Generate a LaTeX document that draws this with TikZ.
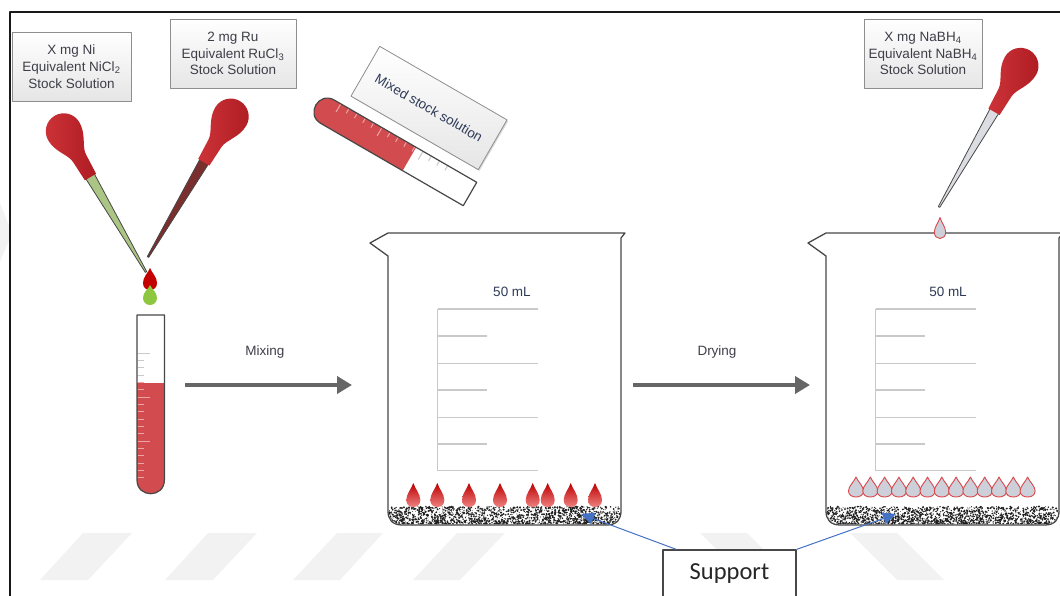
\documentclass[tikz,border=0pt]{standalone}
\usepackage{fontspec}
\setmainfont{Liberation Sans}
\newfontfamily\supportfont{Carlito}
\usetikzlibrary{arrows.meta,shadows,calc}

\definecolor{ink}{HTML}{3E3E48}
\definecolor{rim}{HTML}{474747}
\definecolor{grad}{HTML}{C9C9C9}
\definecolor{tubered}{HTML}{D24B4E}
\definecolor{tubetick}{HTML}{EBA5A6}
\definecolor{rubberA}{HTML}{CC3338}
\definecolor{rubberB}{HTML}{AE1C22}
\definecolor{nigreen}{HTML}{ABC584}
\definecolor{rubrown}{HTML}{7B2E2E}
\definecolor{glass}{HTML}{DCDDE2}
\definecolor{dropgray}{HTML}{CDD0D8}
\definecolor{dropline}{HTML}{D9474C}
\definecolor{dropdark}{HTML}{BC0000}
\definecolor{droplight}{HTML}{EE8080}
\definecolor{dropred}{HTML}{C20000}
\definecolor{dropgreen}{HTML}{8DC63F}
\definecolor{arrowgray}{HTML}{666666}
\definecolor{supblue}{HTML}{4472C4}
\definecolor{wm}{HTML}{F2F2F2}
\definecolor{boxline}{HTML}{8E8E8E}
\definecolor{labelblue}{HTML}{2E3B57}

% dropper: tip at the origin, rubber bulb straight above it
\newcommand\pipettebody[1]{%
  \filldraw[fill=#1, draw=rim, line width=0.8]
    (-0.8,0) -- (-5,-113) -- (5,-113) -- (0.8,0) -- cycle;
  \shade[left color=rubberA, right color=rubberB]
    (-6.5,-110) -- (-7.5,-132) .. controls (-8,-141) and (-18,-149) .. (-18,-163)
    .. controls (-18,-172.94) and (-9.94,-181) .. (0,-181)
    .. controls (9.94,-181) and (18,-172.94) .. (18,-163)
    .. controls (18,-149) and (8,-141) .. (7.5,-132) -- (6.5,-110) -- cycle;
}

% 50 mL beaker with graduations and the support powder at the bottom
\newcommand\beakerglass{%
  \draw[rim, line width=1.3, fill=white]
    (370,243) -- (388,233) -- (625,233) -- (621,238) -- (621,511)
    .. controls (621,519) and (617,525) .. (607,525) -- (402,525)
    .. controls (392,525) and (388,519) .. (388,511) -- (388,256) -- cycle;
  \draw[grad, line width=1.3] (437.7,309) -- (437.7,470.7);
  \foreach \gy in {309,363.3,417.7,470.7}
    \draw[grad, line width=1.3] (437.7,\gy) -- (537.7,\gy);
  \foreach \gy in {336,390,444}
    \draw[grad, line width=1.3] (437.7,\gy) -- (486.7,\gy);
  \begin{scope}
    \clip (389,505) -- (389,511) .. controls (389,518.5) and (393,524) .. (402,524)
      -- (607,524) .. controls (616,524) and (620,518.5) .. (620,511) -- (620,505) -- cycle;
    \foreach \k in {1,...,1700}{
      \pgfmathsetmacro\sx{389+231*rnd}
      \pgfmathsetmacro\sy{524.5-18*rnd^1.3}
      \pgfmathsetmacro\sr{0.35+0.8*rnd}
      \fill[black!88] (\sx,\sy) circle (\sr);
    }
  \end{scope}
}

\tikzset{
  labelbox/.style={draw=boxline, line width=0.8, top color=white, bottom color=black!10,
    drop shadow={shadow xshift=1.2pt, shadow yshift=-1.2pt, opacity=0.3},
    align=center, text=ink, font=\fontsize{13.5}{16.7}\selectfont, inner sep=0pt},
  smalltext/.style={text=ink, font=\fontsize{13.5}{16}\selectfont, inner sep=0pt},
  bigarrow/.style={arrowgray, line width=4, -{Triangle[length=15pt,width=17pt]}},
  supportarrow/.style={supblue, line width=1, -{Triangle[length=13pt,width=12pt]}},
  reddrop/.pic={\shade[top color=dropdark, bottom color=droplight]
    (0,-12) .. controls (2,-6) and (7,-1) .. (7,5) .. controls (7,9.5) and (4,12) .. (0,12)
    .. controls (-4,12) and (-7,9.5) .. (-7,5) .. controls (-7,-1) and (-2,-6) .. (0,-12) -- cycle;},
  graydrop/.pic={\filldraw[fill=dropgray, draw=dropline, line width=0.9]
    (0,-10) .. controls (2,-5) and (7.5,-1) .. (7.5,4) .. controls (7.5,8) and (4,10) .. (0,10)
    .. controls (-4,10) and (-7.5,8) .. (-7.5,4) .. controls (-7.5,-1) and (-2,-5) .. (0,-10) -- cycle;},
}

\begin{document}
\begin{tikzpicture}[x=1pt, y=-1pt, line join=round]
\useasboundingbox (0,0) rectangle (1060,596);
\pgfmathsetseed{12}

% faint background stripes
\fill[wm] (0,203) -- (10,228) -- (10,238) -- (0,262) -- cycle;
\fill[wm] (40,580) -- (88,580) -- (132,533) -- (83,533) -- cycle;
\fill[wm] (165,580) -- (213,580) -- (257,533) -- (208,533) -- cycle;
\fill[wm] (293,580) -- (340,580) -- (383,533) -- (337,533) -- cycle;
\fill[wm] (413,580) -- (460,580) -- (505,533) -- (457,533) -- cycle;
\fill[wm] (700,533) -- (747,533) -- (794,580) -- (747,580) -- cycle;
\fill[wm] (850,533) -- (897,533) -- (944,580) -- (897,580) -- cycle;

% frame
\draw[line width=1.8, black!90] (10,596) -- (10,12) -- (1060,12);

% stock solution labels
\node[labelbox, minimum width=119pt, minimum height=69pt] (niLabel) at (71.5,66.5)
  {X mg Ni\\Equivalent NiCl\textsubscript{2}\\Stock Solution};
\node[labelbox, minimum width=126pt, minimum height=69pt] (ruLabel) at (233,53.5)
  {2 mg Ru\\Equivalent RuCl\textsubscript{3}\\Stock Solution};
\node[labelbox, minimum width=118pt, minimum height=69pt] (nabhLabel) at (923,53.5)
  {X mg NaBH\textsubscript{4}\\Equivalent NaBH\textsubscript{4}\\Stock Solution};

% droppers
\begin{scope}[shift={(146,272)}, rotate=30.3]
  \pipettebody{nigreen}
\end{scope}
\begin{scope}[shift={(148,257)}, rotate=-30.5]
  \pipettebody{rubrown}
\end{scope}
\begin{scope}[shift={(939,207)}, rotate=-30]
  \pipettebody{glass}
\end{scope}

% falling drops over the test tube
\fill[dropred] (150,268) .. controls (152,273) and (157,277) .. (157,283)
  .. controls (157,287.5) and (154,290) .. (150,290) .. controls (146,290) and (143,287.5) .. (143,283)
  .. controls (143,277) and (148,273) .. (150,268) -- cycle;
\fill[dropgreen] (150,285) .. controls (151.5,289) and (157,292) .. (157,298)
  .. controls (157,302) and (154,305) .. (150,305) .. controls (146,305) and (143,302) .. (143,298)
  .. controls (143,292) and (148.5,289) .. (150,285) -- cycle;

% upright test tube
\fill[white] (137,315) -- (137,480) .. controls (137,498.3) and (164.4,498.3) .. (164.4,480) -- (164.4,315) -- cycle;
\fill[tubered] (137,383) -- (137,480) .. controls (137,498.3) and (164.4,498.3) .. (164.4,480) -- (164.4,383) -- cycle;
\foreach \k in {0,...,17}{
  \pgfmathsetmacro\ty{353.3+7.33*\k}
  \pgfmathsetmacro\tl{(mod(\k,6)==0) ? 12 : 6}
  \ifnum\k<4 \def\tc{grad}\else\def\tc{tubetick}\fi
  \draw[\tc, line width=1] (137.5,\ty) -- ++(\tl,0);
}
\draw[rim, line width=1.2] (137,315) -- (137,480) .. controls (137,498.3) and (164.4,498.3) .. (164.4,480) -- (164.4,315) -- cycle;

% tilted tube with the mixed stock solution
\begin{scope}[shift={(470,194)}, rotate=-30]
  \fill[white] (0,-13.5) -- (-164.5,-13.5) .. controls (-182.5,-13.5) and (-182.5,13.5) .. (-164.5,13.5) -- (0,13.5) -- cycle;
  \fill[tubered] (-70,-13.5) -- (-164.5,-13.5) .. controls (-182.5,-13.5) and (-182.5,13.5) .. (-164.5,13.5) -- (-70,13.5) -- cycle;
  \foreach \k in {0,...,13}{
    \pgfmathsetmacro\tx{-157+9.5*\k}
    \pgfmathsetmacro\tl{(mod(\k,5)==0) ? 9 : 5}
    \ifnum\k<10 \def\tc{tubetick}\else\def\tc{grad}\fi
    \draw[\tc, line width=1] (\tx,-13) -- ++(0,\tl);
  }
  \draw[rim, line width=1.2] (0,-13.5) -- (-164.5,-13.5) .. controls (-182.5,-13.5) and (-182.5,13.5) .. (-164.5,13.5) -- (0,13.5) -- cycle;
\end{scope}
\node[labelbox, rotate=-30, minimum width=147pt, minimum height=57.5pt, text=labelblue] (mixLabel) at (429,108)
  {Mixed stock solution};

% beakers
\beakerglass
\begin{scope}[shift={(438,0)}]
  \beakerglass
\end{scope}
\node[smalltext, text=labelblue] (vol1) at (512,292) {50 mL};
\node[smalltext, text=labelblue] (vol2) at (948,292) {50 mL};

% drops in the beakers
\foreach \dx in {413.3,437.3,469,500,532.7,547.7,570.7,595}
  \pic at (\dx,495) {reddrop};
\foreach \k in {0,...,12}
  \pic at ({856+14.3*\k},487) {graydrop};
\pic[xscale=0.75, yscale=1.05] at (940,228) {graydrop};

% process arrows
\coordinate (mixFrom) at (185,385);
\coordinate (mixTo) at (352,385);
\coordinate (dryFrom) at (633,385);
\coordinate (dryTo) at (810,385);
\draw[bigarrow] (mixFrom) -- (mixTo);
\draw[bigarrow] (dryFrom) -- (dryTo);
\node[smalltext] (mixText) at (265,352) {Mixing};
\node[smalltext] (dryText) at (717,352) {Drying};

% support callout
\node[draw=rim, line width=1.2, fill=white, minimum width=133pt, minimum height=48pt,
  font=\supportfont\fontsize{24.5}{28}\selectfont, text=black!85] (support) at (729.5,574) {Support};
\coordinate (carrier1) at (581,514);
\coordinate (carrier2) at (896,514);
\draw[supportarrow] ($(support.north west)+(14,0)$) -- (carrier1);
\draw[supportarrow] (support.north east) -- (carrier2);
\end{tikzpicture}
\end{document}
